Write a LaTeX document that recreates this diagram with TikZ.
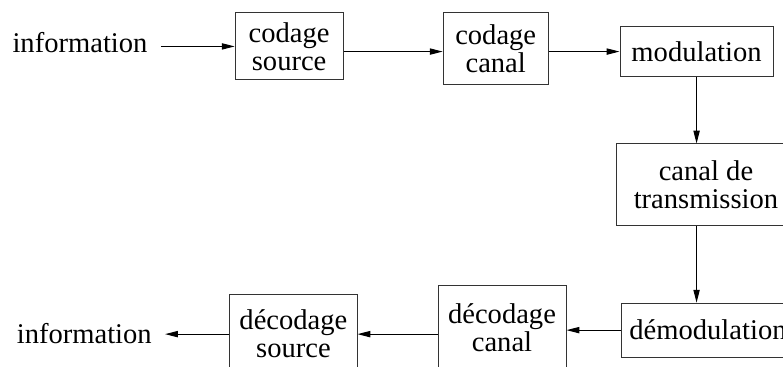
\documentclass[tikz,border=0pt]{standalone}
\usepackage{fontspec}
\setmainfont{Liberation Serif}
\usetikzlibrary{positioning,arrows.meta}

\begin{document}
\begin{tikzpicture}[->,>={Triangle[length=4.5pt,width=2.2pt]},x=0.35pt,y=-0.35pt,
      on grid,line width=0.35pt,font=\fontsize{10}{9.8}\selectfont,
      blk/.style={draw=black!80,rectangle,align=center,inner sep=0pt},
      info/.style={inner xsep=4.5pt}]
      \useasboundingbox (0,0) rectangle (783,367);
      \clip (0,0) rectangle (783,367);
      \node[info] (info1) at (80,43) {information};
      \node[blk,minimum width=37.8pt,minimum height=23.4pt] (csrc) [below right=1.2pt and 73.2pt of info1] {codage\\source};
      \node[blk,minimum width=36.8pt,minimum height=25.2pt] (ccan) [below right=0.9pt and 72.3pt of csrc] {codage\\canal};
      \node[blk,minimum width=53.6pt,minimum height=17.2pt] (mod) [below right=0.9pt and 70.3pt of ccan] {modulation};
      \node[blk,minimum width=63pt,minimum height=28.7pt] (chan) [below right=46.7pt and 3.3pt of mod] {canal de\\transmission};
      \node[blk,minimum width=60.9pt,minimum height=18.9pt] (demod) [below right=50.8pt and 0.7pt of chan] {démodulation};
      \node[blk,minimum width=44.8pt,minimum height=30.1pt] (dcan) [above left=0.7pt and 72.1pt of demod] {décodage\\canal};
      \node[blk,minimum width=44.5pt,minimum height=28pt] (dsrc) [below left=2.1pt and 73pt of dcan] {décodage\\source};
      \node[info] (info2) [above left=0.35pt and 73.2pt of dsrc] {information};
      \path
        (info1.east |- csrc.west) edge (csrc.west)
        (csrc.east |- mod.west) edge (ccan.west |- mod.west)
        (ccan.east |- mod.west) edge (mod.west)
        (mod.south) edge (mod.south |- chan.north)
        (mod.south |- chan.south) edge (mod.south |- demod.north)
        (demod.west) edge (demod.west -| dcan.east)
        (dcan.west |- dsrc.east) edge (dsrc.east)
        (dsrc.west) edge (dsrc.west -| info2.east);
\end{tikzpicture}
\end{document}
